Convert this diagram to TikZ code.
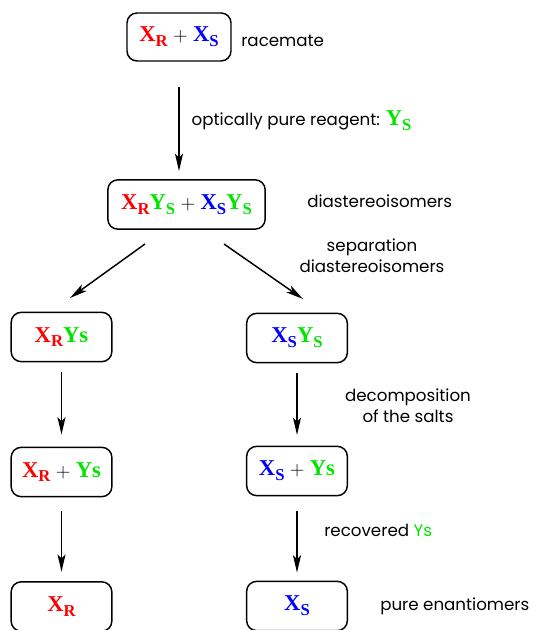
\documentclass[tikz,border=0pt]{standalone}
\usepackage{fontspec}
\setmainfont{Poppins}
\newfontfamily\chemfont{Liberation Serif}
\usepackage{tikz}
\usetikzlibrary{arrows.meta}
\usetikzlibrary{shapes,positioning}
\definecolor{molred}{RGB}{255,0,0}
\definecolor{molblue}{RGB}{0,0,255}
\definecolor{molgreen}{RGB}{0,230,0}
% one species: colour, letter, subscript
\newcommand{\spc}[3]{\textcolor{#1}{\chemfont\bfseries\fontsize{17}{17}\selectfont #2\raisebox{-3.6pt}{\fontsize{12.5}{12.5}\selectfont #3}}}
\newcommand{\ysl}{\textcolor{molgreen}{\chemfont\bfseries\fontsize{17}{17}\selectfont Ys}}
\newcommand{\pls}{\hspace{4pt}{\fontsize{15}{15}\selectfont$+$}\hspace{4pt}}
\tikzset{>={Stealth[length=13pt,width=6pt,inset=3pt]},
  molbox/.style={draw,line width=1.1pt,rounded corners=7.5pt,
    minimum width=75.5pt,minimum height=37pt,inner sep=0pt},
  note/.style={anchor=west,inner sep=0pt,font=\fontsize{12.5}{15}\selectfont},
  flow/.style={->,line width=1.1pt}}

\begin{document}
\begin{tikzpicture}[x=0.75pt,y=-0.75pt]
  \useasboundingbox (0,0) rectangle (533,630);

  \node [molbox,minimum width=78pt,minimum height=36pt] (rac) at (179,37) {\spc{molred}{X}{R}\pls\spc{molblue}{X}{S}};
  \node [note] (racl) at (241,41) {racemate};

  \node [molbox,minimum width=118pt] (dia) at (186.5,204.5) {\spc{molred}{X}{R}\spc{molgreen}{Y}{S}\pls\spc{molblue}{X}{S}\spc{molgreen}{Y}{S}};
  \node [note] (dial) at (307,201) {diastereoisomers};

  \draw [flow,shorten <=19pt,shorten >=6pt] (rac.south) -- (rac.south |- dia.north)
    node [pos=.5,note,xshift=9pt] (reag) {optically pure reagent: \spc{molgreen}{Y}{S}};

  \node [molbox] (rl) at (61.5,337) {\spc{molred}{X}{R}\ysl};
  \node [molbox] (sl) at (297,338) {\spc{molblue}{X}{S}\spc{molgreen}{Y}{S}};

  \coordinate (dl1) at (145,244);
  \coordinate (dl2) at (70,298);
  \coordinate (dr1) at (224,244);
  \coordinate (dr2) at (303,299);
  \draw [flow] (dl1) -- (dl2);
  \draw [flow] (dr1) -- (dr2);
  \node [note,anchor=center,align=center] (sep) at (372,256) {separation\\[1pt]diastereoisomers};

  \node [molbox] (rm) at (61.5,472) {\spc{molred}{X}{R}\pls\ysl};
  \node [molbox] (sm) at (297,471) {\spc{molblue}{X}{S}\pls\ysl};

  \draw [flow,shorten <=7.5pt,shorten >=9pt] (rl.south) -- (rl.south |- rm.north);
  \draw [flow,shorten <=7pt,shorten >=8pt] (sl.south) -- (sl.south |- sm.north);
  \node [note,anchor=center,align=center] (dec) at (408,406) {decomposition\\[1pt]of the salts};

  \node [molbox] (rp) at (61.5,606.5) {\spc{molred}{X}{R}};
  \node [molbox] (sp) at (297,606) {\spc{molblue}{X}{S}};

  \draw [flow,shorten <=10.5pt,shorten >=7pt] (rm.south) -- (rm.south |- rp.north);
  \draw [flow,shorten <=11pt,shorten >=6pt] (sm.south) -- (sm.south |- sp.north);
  \node [note] (rec) at (324,530) {recovered \textcolor{molgreen}{Ys}};
  \node [note] (pure) at (380,606) {pure enantiomers};
\end{tikzpicture}
\end{document}
